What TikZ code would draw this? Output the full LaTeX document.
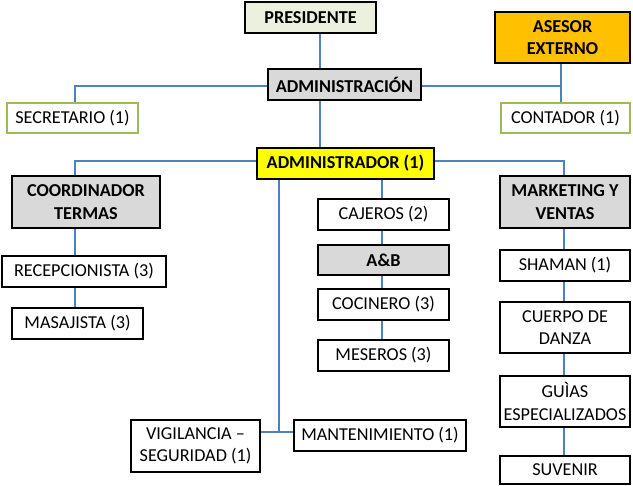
\documentclass[tikz,border=0pt]{standalone}
\usepackage{fontspec}
\setmainfont{Carlito}
\definecolor{lnblue}{HTML}{4F81BD}
\definecolor{gbox}{HTML}{D9D9D9}
\definecolor{pgreen}{HTML}{EBF1DE}
\definecolor{orng}{HTML}{FFC000}
\definecolor{ylw}{HTML}{FFFF00}
\definecolor{grn}{HTML}{9BBB59}
\pgfdeclarelayer{bg}
\pgfsetlayers{bg,main}
\begin{document}
\begin{tikzpicture}[x=1pt,y=-1pt,
  box/.style={draw=black,line width=2.7pt,fill=white,align=center,inner sep=1pt,
    font=\fontsize{18.2}{22.5}\selectfont},
  hbox/.style={box,font=\fontsize{18.2}{22.5}\selectfont\bfseries},
  gbx/.style={draw=grn,line width=1.7pt,fill=white,align=center,inner sep=1pt,
    font=\fontsize{18.2}{22.5}\selectfont},
  conn/.style={draw=lnblue,line width=2.8pt}]
\useasboundingbox (0,0) rectangle (633,486);
% nodes
\node[hbox,fill=pgreen,minimum width=131pt,minimum height=31pt] (pres) at (310.5,17.5) {PRESIDENTE};
\node[hbox,fill=orng,minimum width=135pt,minimum height=51pt] (ases) at (562.5,37.5) {ASESOR\\EXTERNO};
\node[hbox,fill=gbox,minimum width=153pt,minimum height=31pt] (admon) at (344.5,84.5) {ADMINISTRACIÓN};
\node[gbx,minimum width=131pt,minimum height=30pt] (secr) at (72.5,118) {SECRETARIO (1)};
\node[gbx,minimum width=129pt,minimum height=30pt] (cont) at (565.5,118) {CONTADOR (1)};
\node[hbox,fill=ylw,minimum width=177pt,minimum height=31pt] (admr) at (345.5,163.5) {ADMINISTRADOR (1)};
\node[hbox,fill=gbox,minimum width=148pt,minimum height=52pt] (coord) at (86,202) {COORDINADOR\\TERMAS};
\node[box,minimum width=164pt,minimum height=31pt] (recep) at (84,271.5) {RECEPCIONISTA (3)};
\node[box,minimum width=131pt,minimum height=31pt] (masaj) at (77.5,323.5) {MASAJISTA (3)};
\node[box,minimum width=131pt,minimum height=31pt] (caj) at (383.5,214.5) {CAJEROS (2)};
\node[hbox,fill=gbox,minimum width=131pt,minimum height=30pt] (ab) at (383.5,260) {A\&B};
\node[box,minimum width=131pt,minimum height=31pt] (coc) at (383.5,304.5) {COCINERO (3)};
\node[box,minimum width=131pt,minimum height=31pt] (mes) at (383.5,355.5) {MESEROS (3)};
\node[hbox,fill=gbox,minimum width=130pt,minimum height=52pt] (mkt) at (565,202) {MARKETING Y\\VENTAS};
\node[box,minimum width=130pt,minimum height=31pt] (sham) at (565,265.5) {SHAMAN (1)};
\node[box,minimum width=130pt,minimum height=51pt] (cuer) at (565,327.5) {CUERPO DE\\DANZA};
\node[box,minimum width=130pt,minimum height=51pt] (guias) at (565,401.5) {GUÌAS\\ESPECIALIZADOS};
\node[box,minimum width=130pt,minimum height=28pt] (suv) at (565,470) {SUVENIR};
\node[box,minimum width=129pt,minimum height=52pt] (vig) at (195.5,446) {VIGILANCIA –\\SEGURIDAD (1)};
\node[box,minimum width=172pt,minimum height=31pt] (mant) at (380,435.5) {MANTENIMIENTO (1)};
% coordinates
\coordinate (vx) at (320,0);
\coordinate (lx) at (75,0);
\coordinate (rx) at (561,0);
\coordinate (mx) at (564,0);
\coordinate (cx) at (382,0);
\coordinate (kx) at (279,0);
\coordinate (y1) at (0,86);
\coordinate (y2) at (0,161);
\coordinate (y3) at (0,432);
\begin{pgfonlayer}{bg}
\fill[white] (0,0) rectangle (633,486);
\draw[conn] (pres.south -| vx) -- (admon.north -| vx);
\draw[conn] (admon.south -| vx) -- (admr.north -| vx);
\draw[conn] (admon.west |- y1) -- (lx |- y1) -- (secr.north -| lx);
\draw[conn] (admon.east |- y1) -- (rx |- y1);
\draw[conn] (ases.south -| rx) -- (cont.north -| rx);
\draw[conn] (admr.west |- y2) -- (lx |- y2) -- (coord.north -| lx);
\draw[conn] (admr.east |- y2) -- (mx |- y2) -- (mkt.north -| mx);
\draw[conn] (coord.south -| lx) -- (recep.north -| lx);
\draw[conn] (recep.south -| lx) -- (masaj.north -| lx);
\draw[conn] (admr.south -| cx) -- (caj.north -| cx);
\draw[conn] (caj.south -| cx) -- (ab.north -| cx);
\draw[conn] (ab.south -| cx) -- (coc.north -| cx);
\draw[conn] (coc.south -| cx) -- (mes.north -| cx);
\draw[conn] (mkt.south -| mx) -- (sham.north -| mx);
\draw[conn] (sham.south -| mx) -- (cuer.north -| mx);
\draw[conn] (cuer.south -| mx) -- (guias.north -| mx);
\draw[conn] (guias.south -| mx) -- (suv.north -| mx);
\draw[conn] (admr.south -| kx) -- (kx |- y3);
\draw[conn] (vig.east |- y3) -- (mant.west |- y3);
\end{pgfonlayer}
\end{tikzpicture}
\end{document}
